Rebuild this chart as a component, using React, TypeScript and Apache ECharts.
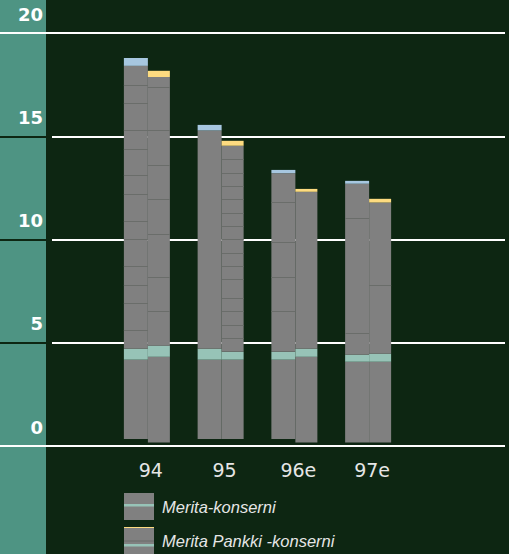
import React, { useEffect, useRef } from "react";
import * as echarts from "echarts";

const categories = ["94", "95", "96e", "97e"];

// Merita-konserni (left bar of each pair): level values
const m1Base = [0.34, 0.34, 0.34, 0.17];
const m1TealLow = [4.18, 4.18, 4.18, 4.08];
const m1TealHigh = [4.71, 4.71, 4.56, 4.42];
const m1GreyTop = [18.41, 15.28, 13.21, 12.7];
const m1CapTop = [18.79, 15.55, 13.37, 12.84];

// Merita Pankki -konserni (right bar of each pair)
const m2Base = [0.17, 0.34, 0.17, 0.17];
const m2TealLow = [4.32, 4.18, 4.32, 4.08];
const m2TealHigh = [4.86, 4.56, 4.71, 4.47];
const m2GreyTop = [17.87, 14.54, 12.31, 11.79];
const m2CapTop = [18.17, 14.78, 12.45, 11.97];

// thin segment lines inside the bars: [category index, value, side (0 left, 1 right)]
const segLines: number[][] = [
  [0, 17.47, 0], [0, 16.6, 0], [0, 15.3, 0], [0, 14.38, 0], [0, 13.12, 0], [0, 12.2, 0],
  [0, 10.89, 0], [0, 10.02, 0], [0, 8.71, 0], [0, 7.79, 0], [0, 6.92, 0], [0, 5.61, 0],
  [0, 17.38, 1], [0, 15.3, 1], [0, 13.6, 1], [0, 11.96, 1], [0, 10.26, 1], [0, 8.18, 1], [0, 6.53, 1],
  [1, 13.89, 1], [1, 13.21, 1], [1, 12.58, 1], [1, 11.96, 1], [1, 11.28, 1], [1, 10.65, 1],
  [1, 10.02, 1], [1, 9.34, 1], [1, 8.71, 1], [1, 8.08, 1], [1, 7.16, 1], [1, 6.53, 1], [1, 5.86, 1], [1, 5.23, 1],
  [2, 11.81, 0], [2, 9.87, 0], [2, 8.18, 0], [2, 6.53, 0],
  [3, 11.04, 0], [3, 5.47, 0], [3, 7.79, 1],
];

const seriesNames = ["Merita-konserni", "Merita Pankki -konserni"];

const BG = "#0d2612";
const STRIP = "#4e9483";
const GREY = "#808080";
const TEAL = "#97c3b7";
const BLUE = "#a7c7e0";
const YELLOW = "#fddb80";
const SEG = "#6a6d6a";

const diff = (a: number[], b: number[]) => a.map((v, i) => +(v - b[i]).toFixed(3));

const svgIcon = (inner: string) =>
  "image://data:image/svg+xml;charset=utf-8," +
  encodeURIComponent(
    `<svg xmlns='http://www.w3.org/2000/svg' width='30' height='27' viewBox='0 0 30 27'>${inner}</svg>`
  );

const icon1 = svgIcon(
  `<rect width='30' height='27' fill='${GREY}'/><rect y='11' width='30' height='2.5' fill='${TEAL}'/>`
);
const icon2 = svgIcon(
  `<rect width='30' height='27' fill='${GREY}'/><rect y='0' width='30' height='1' fill='${YELLOW}'/><rect y='13.5' width='30' height='1' fill='${SEG}'/><rect y='17' width='30' height='2.5' fill='${TEAL}'/>`
);

const GRID_TOP = 33;
const GRID_BOTTOM = 108;

export default function App() {
  const ref = useRef<HTMLDivElement>(null);
  useEffect(() => {
    if (!ref.current) return;
    const chart = echarts.init(ref.current, null, { renderer: "svg" });

    const stackSeries = (
      stack: string,
      name: string,
      width: number,
      base: number[],
      tl: number[],
      th: number[],
      gt: number[],
      ct: number[],
      cap: string
    ) => {
      const common = {
        type: "bar",
        stack,
        barWidth: width,
        barGap: "0%",
        xAxisIndex: 0,
        yAxisIndex: 0,
        silent: true,
      };
      return [
        { ...common, name: stack + "-base", data: base, itemStyle: { color: "transparent" } },
        { ...common, name, data: diff(tl, base), itemStyle: { color: GREY } },
        { ...common, name: stack + "-teal", data: diff(th, tl), itemStyle: { color: TEAL } },
        { ...common, name: stack + "-upper", data: diff(gt, th), itemStyle: { color: GREY } },
        { ...common, name: stack + "-cap", data: diff(ct, gt), itemStyle: { color: cap } },
      ];
    };

    const hiddenX = (gridIndex: number) => ({
      type: "value",
      gridIndex,
      show: false,
      min: 0,
      max: 1,
    });

    const lineY = (gridIndex: number, interval: number, color: string, z: number) => ({
      type: "value",
      gridIndex,
      min: 0,
      max: 20,
      interval,
      z,
      axisLine: { show: false },
      axisTick: { show: false },
      axisLabel: { show: false },
      splitLine: { show: true, lineStyle: { color, width: 2 } },
    });

    const legendText = {
      color: "#e6e6e6",
      fontSize: 16.5,
      fontStyle: "italic",
      fontFamily: "Liberation Sans",
      padding: [0, 0, 0, 3],
    };

    chart.setOption({
      animation: false,
      backgroundColor: BG,
      graphic: [
        {
          type: "rect",
          z: -10,
          shape: { x: 0, y: 0, width: 46, height: 554 },
          style: { fill: STRIP },
          silent: true,
        },
      ],
      grid: [
        { left: 110, right: 104, top: GRID_TOP, bottom: GRID_BOTTOM },
        { left: 52, right: 4, top: GRID_TOP, bottom: GRID_BOTTOM },
        { left: 0, width: 46, top: GRID_TOP, bottom: GRID_BOTTOM },
        { left: 0, width: 52, top: GRID_TOP, bottom: GRID_BOTTOM },
      ],
      xAxis: [
        {
          type: "category",
          gridIndex: 0,
          data: categories,
          axisLine: { show: false },
          axisTick: { show: false },
          axisLabel: {
            color: "#e6e6e6",
            fontSize: 19,
            fontFamily: "DejaVu Sans",
            margin: 14,
            padding: [0, 0, 0, 8],
          },
        },
        hiddenX(1),
        hiddenX(2),
        hiddenX(3),
      ],
      yAxis: [
        {
          type: "value",
          gridIndex: 0,
          min: 0,
          max: 20,
          interval: 5,
          axisLine: { show: false },
          axisTick: { show: false },
          splitLine: { show: false },
          axisLabel: {
            color: "#ffffff",
            fontSize: 18,
            fontWeight: "bold",
            fontFamily: "DejaVu Sans",
            margin: 67,
            verticalAlign: "bottom",
            padding: [0, 0, 10, 0],
          },
        },
        lineY(1, 5, "#ffffff", 1),
        lineY(2, 5, BG, 1),
        lineY(3, 20, "#ffffff", 2),
      ],
      legend: [
        {
          left: 119,
          top: 488,
          itemWidth: 30,
          itemHeight: 27,
          selectedMode: false,
          textStyle: legendText,
          data: [{ name: seriesNames[0], icon: icon1 }],
        },
        {
          left: 119,
          top: 522,
          itemWidth: 30,
          itemHeight: 27,
          selectedMode: false,
          textStyle: legendText,
          data: [{ name: seriesNames[1], icon: icon2 }],
        },
      ],
      series: [
        ...stackSeries("m1", seriesNames[0], 24, m1Base, m1TealLow, m1TealHigh, m1GreyTop, m1CapTop, BLUE),
        ...stackSeries("m2", seriesNames[1], 22, m2Base, m2TealLow, m2TealHigh, m2GreyTop, m2CapTop, YELLOW),
        {
          type: "custom",
          xAxisIndex: 0,
          yAxisIndex: 0,
          z: 5,
          silent: true,
          data: segLines,
          encode: { x: 0, y: 1 },
          renderItem: (params: any, api: any) => {
            const c = api.coord([api.value(0), api.value(1)]);
            const side = api.value(2);
            const x1 = side === 0 ? c[0] - 23 : c[0] + 1;
            const w = side === 0 ? 24 : 22;
            return {
              type: "line",
              shape: { x1, y1: Math.round(c[1]) + 0.5, x2: x1 + w, y2: Math.round(c[1]) + 0.5 },
              style: { stroke: SEG, lineWidth: 1 },
            };
          },
        },
      ],
    });
    return () => chart.dispose();
  }, []);

  return <div ref={ref} style={{ width: 509, height: 554, position: "absolute", left: 0, top: 0 }} />;
}
